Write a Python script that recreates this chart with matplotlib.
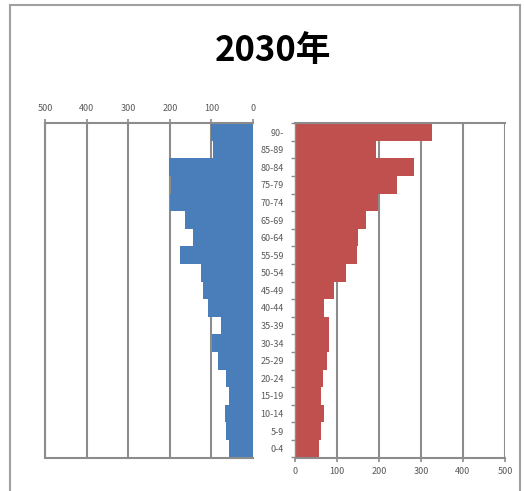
# population pyramid, 2030
import numpy as np
import matplotlib.pyplot as plt

plt.rcParams['font.family'] = ['Noto Sans CJK JP', 'DejaVu Sans']

ages = ["0-4", "5-9", "10-14", "15-19", "20-24", "25-29", "30-34", "35-39",
        "40-44", "45-49", "50-54", "55-59", "60-64", "65-69", "70-74",
        "75-79", "80-84", "85-89", "90-"]
male = [58, 64, 68, 58, 66, 84, 99, 76, 108, 120, 126, 176, 144, 164, 200,
        197, 202, 97, 100]
female = [58, 62, 68, 62, 66, 76, 80, 82, 70, 92, 122, 148, 150, 168, 198,
          242, 284, 193, 326]
ticks = [0, 100, 200, 300, 400, 500]

blue = "#4A7EBB"
red = "#C0504D"
grid_c = "#8C8C8C"
text_c = "#595959"

fig = plt.figure(figsize=(5.24, 4.91), dpi=100)
y = np.arange(len(ages))

bottom = 1 - 457.5 / 491
height = (457.5 - 123.3) / 491

# left side (blue)
axL = fig.add_axes([45 / 524, bottom, 208 / 524, height])
axL.barh(y, male, height=1.0, color=blue, zorder=2)
axL.set_xlim(500, 0)
axL.set_ylim(-0.5, len(ages) - 0.5)
axL.set_xticks(ticks)
axL.xaxis.tick_top()
axL.set_yticks([])
axL.tick_params(axis='x', colors=grid_c, labelcolor=text_c, labelsize=6.5,
                length=3, width=1.2, pad=4.5)
axL.grid(axis='x', color=grid_c, linewidth=1.5, zorder=1)
for s in axL.spines.values():
    s.set_color(grid_c)
    s.set_linewidth(1.5)
axL.spines['right'].set_visible(False)

# right side (red)
axR = fig.add_axes([295 / 524, bottom, 210 / 524, height])
axR.barh(y, female, height=1.0, color=red, zorder=2)
axR.set_xlim(0, 500)
axR.set_ylim(-0.5, len(ages) - 0.5)
axR.set_xticks(ticks)
axR.set_yticks(y)
axR.set_yticklabels(ages)
axR.set_yticks(np.arange(len(ages) + 1) - 0.5, minor=True)
axR.tick_params(axis='y', which='major', length=0, pad=8,
                labelsize=6.5, labelcolor=text_c)
axR.tick_params(axis='y', which='minor', length=3, color=grid_c, width=1)
axR.tick_params(axis='x', colors=grid_c, labelcolor=text_c, labelsize=6.5,
                length=3, width=1.2, pad=4)
axR.grid(axis='x', color=grid_c, linewidth=1.5, zorder=1)
for s in axR.spines.values():
    s.set_color(grid_c)
    s.set_linewidth(1.5)
axR.spines['left'].set_linewidth(1.0)
axR.spines['right'].set_visible(False)

fig.text(273 / 524, 1 - 50 / 491, "2030年", ha='center', va='center',
         fontsize=25, fontweight='bold', color='black')

# outer frame
fig.add_artist(plt.Line2D([10 / 524, 10 / 524], [0, 1 - 5 / 491],
                          color="#A0A0A0", linewidth=1.5))
fig.add_artist(plt.Line2D([10 / 524, 520 / 524], [1 - 5 / 491, 1 - 5 / 491],
                          color="#A0A0A0", linewidth=1.5))
fig.add_artist(plt.Line2D([520 / 524, 520 / 524], [0, 1 - 5 / 491],
                          color="#A0A0A0", linewidth=1.5))

plt.savefig("out.png", dpi=100)
